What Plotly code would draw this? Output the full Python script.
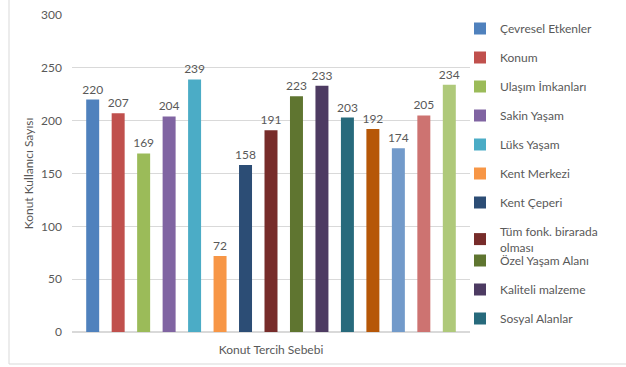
import plotly.graph_objects as go

categories = ["Konut Tercih Sebebi"]
series_names = [
    "Çevresel Etkenler", "Konum", "Ulaşım İmkanları", "Sakin Yaşam", "Lüks Yaşam",
    "Kent Merkezi", "Kent Çeperi", "Tüm fonk. birarada<br>olması", "Özel Yaşam Alanı",
    "Kaliteli malzeme", "Sosyal Alanlar", "Seri 12", "Seri 13", "Seri 14", "Seri 15",
]
values = [220, 207, 169, 204, 239, 72, 158, 191, 223, 233, 203, 192, 174, 205, 234]
colors = [
    "#4F81BD", "#C0504D", "#9BBB59", "#8064A2", "#4BACC6", "#F79646", "#2C4D75",
    "#772C2A", "#5F7530", "#4D3B62", "#276A7C", "#B65708", "#729ACA", "#CD7371", "#AFC97A",
]
y_ticks = [0, 50, 100, 150, 200, 250, 300]

FONT = "Lato"
TXT = "#595959"

fig = go.Figure()
for i, (name, val, col) in enumerate(zip(series_names, values, colors)):
    if i < 8:
        lg, show = "legend", True
    elif i < 11:
        lg, show = "legend2", True
    else:
        lg, show = "legend", False
    fig.add_trace(go.Bar(
        x=categories, y=[val], name=name, marker_color=col, marker_line_width=0,
        text=[str(val)], textposition="outside", constraintext="none", cliponaxis=False,
        textfont=dict(family=FONT, size=12, color=TXT),
        legendgroup=f"g{i}", showlegend=show, legend=lg,
    ))

L, R, T, B = 72, 156, 15, 35
W, H = 626, 367
pw, ph = W - L - R, H - T - B

fig.update_layout(
    width=W, height=H,
    margin=dict(l=L, r=R, t=T, b=B, autoexpand=False),
    paper_bgcolor="white", plot_bgcolor="white",
    barmode="group", bargap=0.04, bargroupgap=0.49,
    font=dict(family=FONT, size=12, color=TXT),
    showlegend=True,
    legend=dict(
        x=(460 - L) / pw, xanchor="left", y=1 - (14 - T) / ph, yanchor="top",
        traceorder="grouped", tracegroupgap=10, maxheight=340,
        font=dict(family=FONT, size=12, color=TXT), bgcolor="rgba(0,0,0,0)",
    ),
    legend2=dict(
        x=(460 - L) / pw, xanchor="left", y=1 - (246 - T) / ph, yanchor="top",
        traceorder="grouped", tracegroupgap=10, maxheight=200,
        font=dict(family=FONT, size=12, color=TXT), bgcolor="rgba(0,0,0,0)",
    ),
    xaxis=dict(
        showticklabels=False, ticks="", showline=True, linecolor="#D9D9D9", linewidth=1,
        title=dict(text="Konut Tercih Sebebi", font=dict(family=FONT, size=12, color=TXT), standoff=13),
        automargin=False, showgrid=False,
    ),
    yaxis=dict(
        range=[0, 300], tickvals=y_ticks, showgrid=True, gridcolor="#D9D9D9", gridwidth=1,
        zeroline=True, zerolinecolor="#D9D9D9", showline=False, ticks="",
        ticklabelstandoff=9,
        tickfont=dict(family=FONT, size=12, color=TXT),
        title=dict(text="Konut Kullanıcı Sayısı", font=dict(family=FONT, size=12, color=TXT), standoff=4),
        automargin=False,
    ),
    shapes=[dict(
        type="rect", xref="paper", yref="paper",
        x0=(9 - L) / pw, x1=(W + 20 - L) / pw, y0=-(364 - (H - B)) / ph, y1=1 + (T + 20) / ph,
        line=dict(color="#D9D9D9", width=1), fillcolor="rgba(0,0,0,0)", layer="below",
    )],
)

fig.write_html("out.html")
